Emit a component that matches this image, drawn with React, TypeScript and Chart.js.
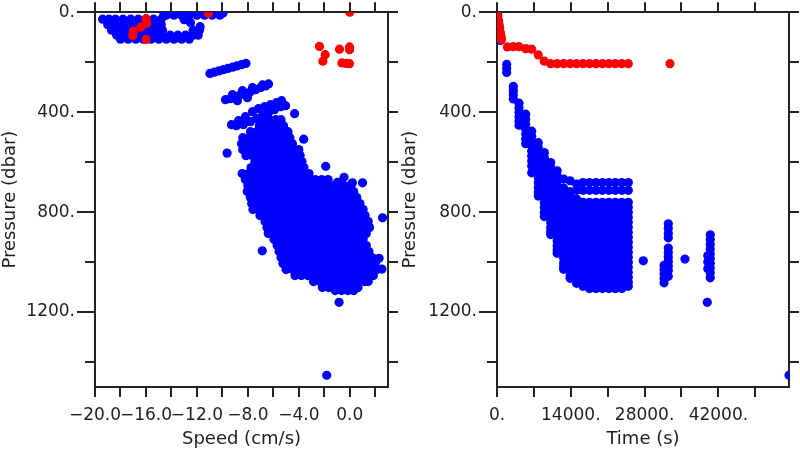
import { useEffect, useRef } from 'react';
import { Chart, registerables } from 'chart.js';

Chart.register(...registerables);

// ---------------- axis ranges / ticks ----------------
const PRESSURE_MAX = 1500;
const SPEED_MIN = -20;
const SPEED_MAX = 3.0;
const TIME_MAX = 55400;

const pressureMajorTicks = [0, 400, 800, 1200];
const pressureMinorTicks = [0, 200, 400, 600, 800, 1000, 1200, 1400];
const speedTicks = [-20, -18, -16, -14, -12, -10, -8, -6, -4, -2, 0, 2];
const speedLabelled = [-20, -16, -12, -8, -4, 0];
const timeTicks = [0, 7000, 14000, 21000, 28000, 35000, 42000, 49000];
const timeLabelled = [0, 14000, 28000, 42000];

// ---------------- left panel: Speed (cm/s) vs Pressure (dbar) ----------------
// red series [speed, pressure]
const speedRed: [number, number][] = [
  [-15.99, 26], [-15.95, 44], [-16.41, 60], [-16.99, 76], [-17.04, 93], [-15.99, 109],
  [-11.1, 4], [0.0, 0],
  [-2.38, 137], [-1.93, 170], [-2.11, 196], [-0.81, 148], [-0.02, 139], [-0.02, 150],
  [-0.62, 203], [-0.02, 206], [-0.28, 205],
];

// blue near-surface cluster: [pressure, speeds[]]
const speedBlueTopRows: [number, number[]][] = [
  [3, [-14.6, -14.0, -13.4, -12.8, -12.2, -11.6, -11.0, -10.4, -9.95]],
  [12, [-14.4, -13.8, -13.2, -12.6, -12.0, -11.4, -10.8, -10.2]],
  [28, [-19.4, -18.9, -18.4, -17.8, -17.2, -16.6, -16.0, -15.4, -14.8]],
  [50, [-19.0, -18.4, -17.8, -17.2, -16.6, -16.0, -15.4, -14.8]],
  [72, [-18.7, -18.1, -17.5, -16.9, -16.3, -15.7, -15.1, -14.7, -12.3, -11.8]],
  [92, [-18.3, -17.7, -17.1, -16.5, -15.9, -15.3, -14.7, -14.1, -13.5, -12.9, -12.3, -11.9]],
  [108, [-18.0, -17.4, -16.8, -16.2, -15.6, -15.0, -14.4, -13.8, -13.2, -12.6]],
];

// blue slanted bands and scattered points [speed, pressure]
const speedBlueBands: [number, number][] = [
  [-13.0, 30], [-12.5, 42], [-11.75, 58],
  [-10.98, 245], [-10.63, 240], [-10.28, 235], [-9.92, 230], [-9.57, 225], [-9.21, 220],
  [-8.86, 215], [-8.5, 210], [-8.15, 205],
  [-9.76, 350], [-9.37, 346], [-8.98, 338], [-8.58, 330], [-8.19, 326], [-7.8, 318],
  [-7.4, 310], [-7.01, 302], [-6.61, 295], [-6.38, 287], [-9.21, 330], [-8.43, 314],
  [-7.64, 302], [-6.85, 291], [-8.82, 354], [-8.03, 342],
  [-9.29, 450], [-8.74, 434], [-8.19, 418], [-7.64, 398], [-7.17, 386], [-6.69, 378],
  [-6.22, 370], [-5.75, 362], [-5.35, 354], [-8.9, 454], [-8.35, 450], [-7.8, 438],
  [-7.32, 426], [-6.85, 414], [-6.38, 402], [-5.91, 390], [-5.43, 378], [-5.04, 374],
  [-4.33, 406], [-9.63, 564], [-3.62, 508], [-1.89, 617], [-0.45, 661], [0.21, 683],
  [1.0, 683], [-0.97, 681], [2.57, 823], [-6.87, 955], [-0.84, 1161], [-1.81, 1453],
  [2.52, 1028], [2.3, 985],
];

// blue main cloud: [pressure, speeds[]]
const speedBlobRows: [number, number[]][] = [
  [430, [-6.8, -6.3, -5.8, -5.4]],
  [454, [-7.1, -6.6, -6.1, -5.6, -5.2]],
  [478, [-7.8, -7.3, -6.8, -6.3, -5.8, -5.3, -4.85]],
  [502, [-8.4, -7.9, -7.4, -6.9, -6.4, -5.9, -5.4, -4.9, -4.7]],
  [526, [-8.5, -8.0, -7.5, -7.0, -6.5, -6.0, -5.5, -5.0, -4.5]],
  [550, [-8.4, -7.9, -7.4, -6.9, -6.4, -5.9, -5.4, -4.9, -4.4, -4.0]],
  [574, [-8.15, -7.65, -7.15, -6.65, -6.15, -5.65, -5.15, -4.65, -4.15, -3.9]],
  [598, [-7.45, -6.95, -6.45, -5.95, -5.45, -4.95, -4.45, -3.95, -3.75]],
  [622, [-7.75, -7.25, -6.75, -6.25, -5.75, -5.25, -4.75, -4.25, -3.75, -3.6]],
  [646, [-8.45, -7.95, -7.45, -6.95, -6.45, -5.95, -5.45, -4.95, -4.45, -3.95, -3.45, -3.2]],
  [670, [-8.2, -7.7, -7.2, -6.7, -6.2, -5.7, -5.2, -4.7, -4.2, -3.7, -3.2, -2.7, -2.2, -1.7]],
  [694, [-8.0, -7.5, -7.0, -6.5, -6.0, -5.5, -5.0, -4.5, -4.0, -3.5, -3.0, -2.5, -2.0, -1.5, -1.0, -0.5, 0.0, 0.1]],
  [718, [-8.05, -7.55, -7.05, -6.55, -6.05, -5.55, -5.05, -4.55, -4.05, -3.55, -3.05, -2.55, -2.05, -1.55, -1.05, -0.55, -0.05, 0.3]],
  [742, [-7.8, -7.3, -6.8, -6.3, -5.8, -5.3, -4.8, -4.3, -3.8, -3.3, -2.8, -2.3, -1.8, -1.3, -0.8, -0.3, 0.2, 0.55]],
  [766, [-7.7, -7.2, -6.7, -6.2, -5.7, -5.2, -4.7, -4.2, -3.7, -3.2, -2.7, -2.2, -1.7, -1.2, -0.7, -0.2, 0.3, 0.8]],
  [790, [-7.6, -7.1, -6.6, -6.1, -5.6, -5.1, -4.6, -4.1, -3.6, -3.1, -2.6, -2.1, -1.6, -1.1, -0.6, -0.1, 0.4, 0.9, 1.05]],
  [814, [-7.05, -6.55, -6.05, -5.55, -5.05, -4.55, -4.05, -3.55, -3.05, -2.55, -2.05, -1.55, -1.05, -0.55, -0.05, 0.45, 0.95, 1.2]],
  [838, [-6.65, -6.15, -5.65, -5.15, -4.65, -4.15, -3.65, -3.15, -2.65, -2.15, -1.65, -1.15, -0.65, -0.15, 0.35, 0.85, 1.35, 1.45]],
  [862, [-6.5, -6.0, -5.5, -5.0, -4.5, -4.0, -3.5, -3.0, -2.5, -2.0, -1.5, -1.0, -0.5, 0.0, 0.5, 1.0, 1.5, 1.55]],
  [886, [-6.4, -5.9, -5.4, -4.9, -4.4, -3.9, -3.4, -2.9, -2.4, -1.9, -1.4, -0.9, -0.4, 0.1, 0.6, 1.1, 1.3]],
  [910, [-5.95, -5.45, -4.95, -4.45, -3.95, -3.45, -2.95, -2.45, -1.95, -1.45, -0.95, -0.45, 0.05, 0.55, 1.05]],
  [934, [-5.7, -5.2, -4.7, -4.2, -3.7, -3.2, -2.7, -2.2, -1.7, -1.2, -0.7, -0.2, 0.3, 0.8, 1.3]],
  [958, [-5.55, -5.05, -4.55, -4.05, -3.55, -3.05, -2.55, -2.05, -1.55, -1.05, -0.55, -0.05, 0.45, 0.95, 1.5]],
  [982, [-5.4, -4.9, -4.4, -3.9, -3.4, -2.9, -2.4, -1.9, -1.4, -0.9, -0.4, 0.1, 0.6, 1.1, 1.6, 1.75]],
  [1006, [-5.25, -4.75, -4.25, -3.75, -3.25, -2.75, -2.25, -1.75, -1.25, -0.75, -0.25, 0.25, 0.75, 1.25, 1.75, 2.0]],
  [1030, [-5.0, -4.5, -4.0, -3.5, -3.0, -2.5, -2.0, -1.5, -1.0, -0.5, 0.0, 0.5, 1.0, 1.5, 2.0, 2.15]],
  [1054, [-4.3, -3.8, -3.3, -2.8, -2.3, -1.8, -1.3, -0.8, -0.3, 0.2, 0.7, 1.2, 1.7, 1.85]],
  [1078, [-2.85, -2.35, -1.85, -1.35, -0.85, -0.35, 0.15, 0.65, 1.15, 1.45]],
  [1102, [-2.15, -1.65, -1.15, -0.65, -0.15, 0.35, 0.65]],
  [1114, [-1.15, -0.65, -0.15, 0.3]],
];

// ---------------- right panel: Time (s) vs Pressure (dbar) ----------------
const timeRed: [number, number][] = [
  [0, 0], [114, 16], [247, 32], [379, 48], [493, 64], [626, 80], [759, 96], [850, 109],
  [1960, 139], [3092, 138], [4173, 138], [5444, 146], [6583, 148], [7835, 171], [8973, 196],
  [10187, 206], [11414, 206], [12641, 206], [13868, 206], [15095, 206], [16322, 206],
  [17549, 206], [18776, 206], [20003, 206], [21230, 206], [22457, 206], [23684, 206],
  [24911, 206], [32818, 206],
];

const timeBlueSingles: [number, number][] = [
  [150, 12], [300, 35], [450, 60], [600, 85], [700, 100], [640, 113],
  [27753, 995], [35664, 988], [39894, 1161], [55400, 1453],
];

const profileTimes = [
  1840, 3092, 4173, 5444, 6583, 7835, 8973, 10187, 11414, 12641,
  13868, 15095, 16322, 17549, 18776, 20003, 21230, 22457, 23684, 24911,
  32500, 31700, 40460, 39990,
];

const deepLevels = [682, 713, 761, 781, 801, 821, 841, 861, 881, 901, 921, 941, 961, 981, 1001, 1021, 1041, 1061, 1081, 1097];

const profilePressures: number[][] = [
  [209, 225, 241],
  [297, 313, 330, 347],
  [364, 382, 400, 418, 436, 452],
  [408, 428, 448, 468, 488, 508, 526],
  [476, 496, 516, 536, 556, 576, 596, 616, 643],
  [522, 542, 562, 582, 602, 622, 642, 662, 682, 702, 720, 736],
  [562, 582, 602, 622, 642, 662, 682, 702, 722, 742, 762, 782, 802, 818],
  [602, 622, 642, 662, 682, 702, 722, 742, 762, 782, 802, 822, 842, 862, 878, 890],
  [635, 655, 675, 695, 715, 735, 755, 775, 795, 815, 835, 855, 875, 895, 915, 935, 952, 965],
  [668, 704, 724, 744, 764, 784, 804, 824, 844, 864, 884, 904, 924, 944, 964, 984, 1004, 1018, 1029],
  [675, 718, 738, 758, 778, 798, 818, 838, 858, 878, 898, 918, 938, 958, 978, 998, 1018, 1038, 1055, 1065],
  [688, 713, 748, 768, 788, 808, 828, 848, 868, 888, 908, 928, 948, 968, 988, 1008, 1028, 1048, 1068, 1085],
  deepLevels,
  [...deepLevels, 1106],
  [...deepLevels, 1106],
  [...deepLevels, 1106],
  [...deepLevels, 1106],
  [...deepLevels, 1106],
  [...deepLevels, 1106],
  deepLevels,
  [847, 865, 885, 903, 944, 962, 980, 998, 1016, 1034, 1057],
  [1013, 1030, 1048, 1066, 1083],
  [891, 910, 929, 948, 967, 986, 1005, 1024, 1043, 1063],
  [975, 1000, 1027],
];

// ---------------- helpers ----------------
const FONT = 'DejaVu Sans';
const INK = '#222222';
const TEXT = '#1e1e1e';

const fromPairs = (a: [number, number][]) => a.map(([x, y]) => ({ x, y }));
const fromRows = (rows: [number, number[]][]) =>
  rows.flatMap(([p, xs]) => xs.map((x) => ({ x, y: p })));
const fromCols = (xs: number[], cols: number[][]) =>
  xs.flatMap((x, i) => cols[i].map((y) => ({ x, y })));

const setTicks = (values: number[]) => (scale: any) => {
  scale.ticks = values.map((value) => ({ value }));
};

function dataset(data: { x: number; y: number }[], color: string) {
  return {
    data,
    backgroundColor: color,
    borderColor: color,
    pointBackgroundColor: color,
    pointRadius: 4.6,
    pointHoverRadius: 4.6,
    pointBorderWidth: 0,
    showLine: false,
    clip: 0,
  };
}

function buildConfig(o: {
  red: { x: number; y: number }[];
  blue: { x: number; y: number }[];
  xMin: number;
  xMax: number;
  xTicks: number[];
  xLabel: (v: number) => string;
  xTitle: string;
  leftW: number;
  rightW: number;
}) {
  const grid = (len: number) => ({
    drawOnChartArea: false,
    drawTicks: true,
    tickLength: len,
    tickWidth: 2,
    tickColor: INK,
    color: INK,
    lineWidth: 2,
  });
  const border = { display: true, color: INK, width: 2 };
  const tickFont = { family: FONT, size: 17 };
  const titleFont = { family: FONT, size: 18 };
  return {
    type: 'scatter' as const,
    data: { datasets: [dataset(o.red, '#ff0000'), dataset(o.blue, '#0000ff')] },
    options: {
      responsive: false,
      animation: false as const,
      events: [],
      layout: { padding: 0 },
      plugins: { legend: { display: false }, tooltip: { enabled: false } },
      scales: {
        x: {
          type: 'linear', position: 'bottom', min: o.xMin, max: o.xMax,
          border, grid: grid(10),
          afterBuildTicks: setTicks(o.xTicks),
          ticks: {
            autoSkip: false, maxRotation: 0, minRotation: 0,
            padding: 8, color: TEXT, font: tickFont,
            callback: (v: any) => o.xLabel(Number(v)),
          },
          title: { display: true, text: o.xTitle, color: TEXT, font: titleFont, padding: { top: 0, bottom: 0 } },
          afterFit: (s: any) => { s.height = 63; },
        },
        xTop: {
          type: 'linear', position: 'top', min: o.xMin, max: o.xMax,
          border, grid: grid(10),
          afterBuildTicks: setTicks(o.xTicks),
          ticks: { autoSkip: false, display: false },
          afterFit: (s: any) => { s.height = 10; },
        },
        y: {
          type: 'linear', position: 'left', reverse: true, min: 0, max: PRESSURE_MAX, weight: 1,
          border, grid: grid(18),
          afterBuildTicks: setTicks(pressureMajorTicks),
          ticks: {
            autoSkip: false, padding: 2, color: TEXT, font: tickFont,
            callback: (v: any) => `${v}.`,
          },
          title: { display: true, text: 'Pressure (dbar)', color: TEXT, font: titleFont, padding: { top: 0, bottom: 0 } },
          afterFit: (s: any) => { s.width = o.leftW; },
        },
        yMinor: {
          type: 'linear', position: 'left', reverse: true, min: 0, max: PRESSURE_MAX, weight: 0,
          border: { display: false }, grid: grid(10),
          afterBuildTicks: setTicks(pressureMinorTicks),
          ticks: { autoSkip: false, display: false },
          afterFit: (s: any) => { s.width = 0; },
        },
        yRight: {
          type: 'linear', position: 'right', reverse: true, min: 0, max: PRESSURE_MAX,
          border, grid: grid(10),
          afterBuildTicks: setTicks(pressureMinorTicks),
          ticks: { autoSkip: false, display: false },
          afterFit: (s: any) => { s.width = o.rightW; },
        },
      },
    },
  };
}

const speedLabel = (v: number) => {
  if (!speedLabelled.some((t) => Math.abs(t - v) < 1e-9)) return '';
  if (Math.abs(v) < 1e-9) return '0.0';
  return (v < 0 ? '\u2212' : '') + Math.abs(v).toFixed(1);
};
const timeLabel = (v: number) => (timeLabelled.includes(v) ? `${v}.` : '');

export default function App() {
  const leftRef = useRef<HTMLCanvasElement>(null);
  const rightRef = useRef<HTMLCanvasElement>(null);

  useEffect(() => {
    Chart.defaults.font.family = FONT;
    const left = new Chart(leftRef.current as HTMLCanvasElement, buildConfig({
      red: fromPairs(speedRed),
      blue: [...fromRows(speedBlueTopRows), ...fromPairs(speedBlueBands), ...fromRows(speedBlobRows)],
      xMin: SPEED_MIN, xMax: SPEED_MAX, xTicks: speedTicks, xLabel: speedLabel, xTitle: 'Speed (cm/s)',
      leftW: 95, rightW: 12,
    }) as any);
    const right = new Chart(rightRef.current as HTMLCanvasElement, buildConfig({
      red: fromPairs(timeRed),
      blue: [...fromPairs(timeBlueSingles), ...fromCols(profileTimes, profilePressures)],
      xMin: 0, xMax: TIME_MAX, xTicks: timeTicks, xLabel: timeLabel, xTitle: 'Time (s)',
      leftW: 97, rightW: 11,
    }) as any);
    return () => { left.destroy(); right.destroy(); };
  }, []);

  return (
    <div style={{ position: 'fixed', left: 0, top: 0, width: 800, height: 450, background: '#ffffff' }}>
      <canvas ref={leftRef} width={400} height={450}
        style={{ position: 'absolute', left: 0, top: 0, width: 400, height: 450 }} />
      <canvas ref={rightRef} width={400} height={450}
        style={{ position: 'absolute', left: 400, top: 0, width: 400, height: 450 }} />
    </div>
  );
}
